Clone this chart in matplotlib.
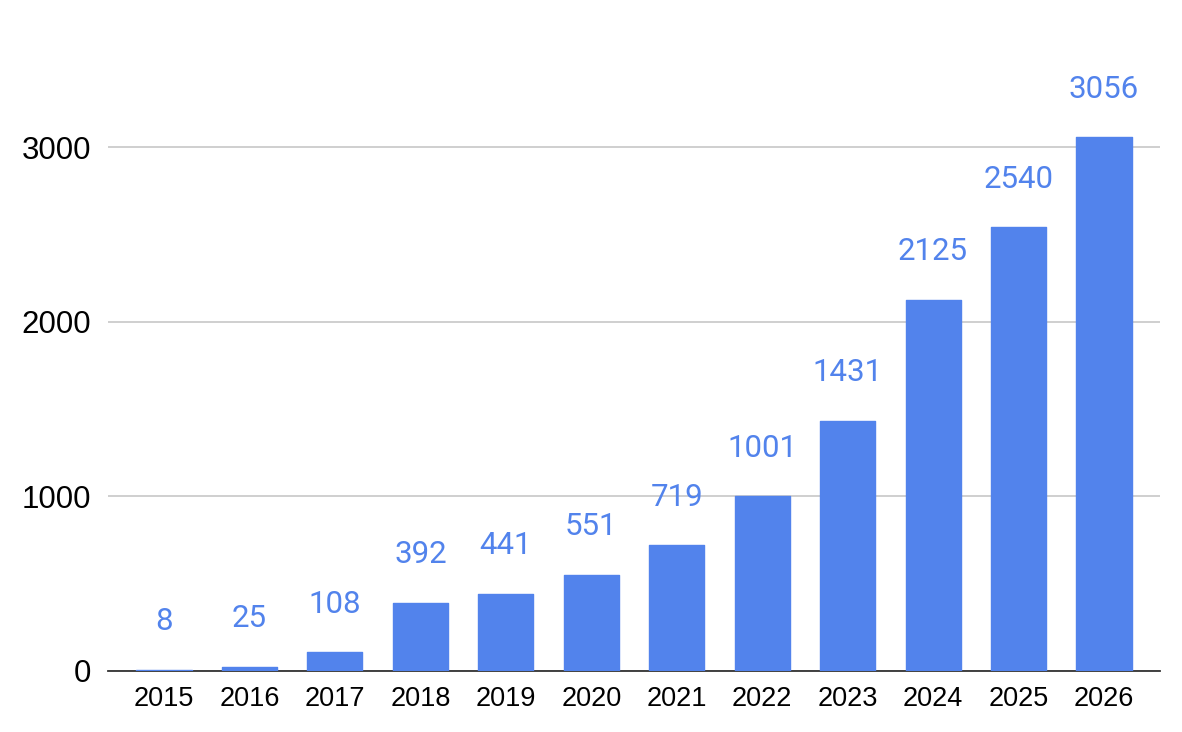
import matplotlib
matplotlib.use("Agg")
import matplotlib.pyplot as plt

years = ["2015", "2016", "2017", "2018", "2019", "2020", "2021", "2022", "2023", "2024", "2025", "2026"]
values = [8, 25, 108, 392, 441, 551, 719, 1001, 1431, 2125, 2540, 3056]
yticks = [0, 1000, 2000, 3000]

bar_color = "#5283EC"

fig = plt.figure(figsize=(11.82, 7.32), dpi=100)
ax = fig.add_axes([108 / 1182, 61 / 732, (1160 - 108) / 1182, (671 - 59.7) / 732])

x = list(range(len(years)))
bars = ax.bar(x, values, width=0.645, color=bar_color, zorder=5,
              edgecolor=bar_color, linewidth=1.0)
for b in bars:
    b.set_joinstyle("round")

for xi, v in zip(x, values):
    ax.annotate(str(v), (xi, v), xytext=(0, 28.5), textcoords="offset points",
                ha="center", va="baseline", fontsize=22.5, color=bar_color,
                family="Roboto")

ax.set_xlim(-0.655, len(years) - 1 + 0.655)
ax.set_ylim(0, 3500)
ax.set_yticks(yticks)
ax.set_yticklabels([str(t) for t in yticks], family="Liberation Sans", fontsize=22.5)
ax.set_xticks(x)
ax.set_xticklabels(years, family="Liberation Sans", fontsize=19.5)
ax.tick_params(axis="y", length=0, pad=12)
ax.tick_params(axis="x", length=0, pad=11)
ax.grid(axis="y", color="#cccccc", linewidth=1.3, zorder=0)
for s in ["top", "right", "left"]:
    ax.spines[s].set_visible(False)
ax.spines["bottom"].set_color("#333333")
ax.spines["bottom"].set_linewidth(1.3)
ax.spines["bottom"].set_zorder(4)

fig.savefig("out.png", dpi=100)
